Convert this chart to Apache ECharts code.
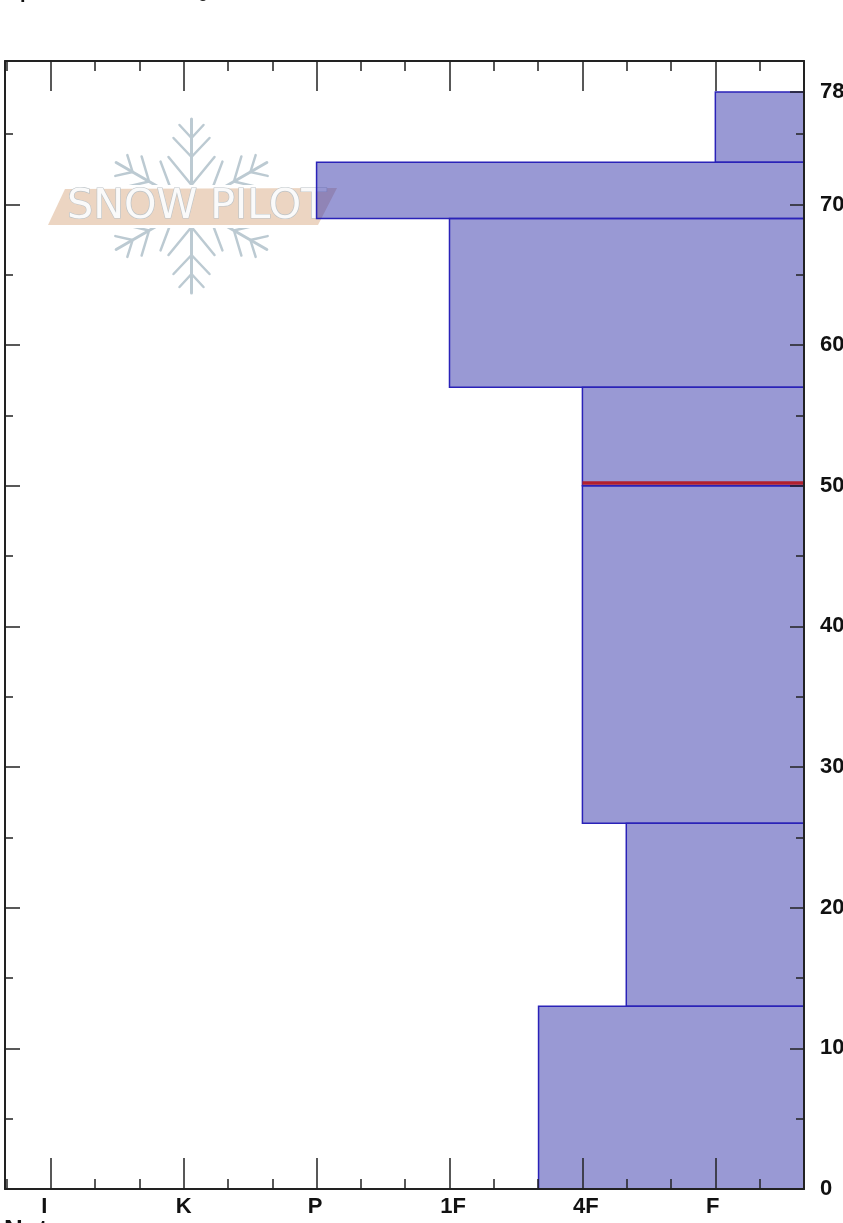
<!DOCTYPE html>
<html>
<head>
<meta charset="utf-8">
<title>Snow Pilot layers</title>
<script src="https://cdn.jsdelivr.net/npm/echarts@6/dist/echarts.min.js"></script>
<style>
html,body{margin:0;padding:0;background:#fff;overflow:hidden;}
/* the reference is a slightly soft upscaled image */
#chart{width:843px;height:1223px;filter:blur(0.45px);}
</style>
</head>
<body>
<div id="chart"></div>
<script>
// hand hardness scale: I=1 K=2 P=3 1F=4 4F=5 F=6, minor ticks every third
var hardnessNames = ['I', 'K', 'P', '1F', '4F', 'F'];
var hardnessMajor = [1, 2, 3, 4, 5, 6];
var hardnessMinor = [0.667, 1.333, 1.667, 2.333, 2.667, 3.333, 3.667, 4.333, 4.667, 5.333, 5.667, 6.333];
var labelShift = [-6.5, 0, -1.5, 3.5, 3.5, -2.5];
var xMin = 0.656;
var xMax = 6.667;

// depth axis
var depthMajor = [0, 10, 20, 30, 40, 50, 60, 70];
var depthMinor = [5, 15, 25, 35, 45, 55, 65, 75];
var depthTop = [78];
var yMax = 80.2;

// layers, bottom to top
var layerBottom = [0, 13, 26, 50, 57, 69, 73];
var layerTop = [13, 26, 50, 57, 69, 73, 78];
var layerHardness = [4.67, 5.33, 5, 5, 4, 3, 6];

// the red line sits just over the 50 boundary
var redDepth = 50.2;
var redFrom = 5;

var layerData = [];
for (var i = 0; i < layerTop.length; i++) {
    layerData.push([layerHardness[i], layerBottom[i], layerTop[i]]);
}

var axisColor = '#222';
var labelFont = {color: '#111', fontFamily: 'Liberation Sans', fontWeight: 'bold', fontSize: 22};

function xAxisOf(position, ticks, length, showLine, showLabel) {
    var rich = {};
    for (var k = 0; k < labelShift.length; k++) {
        var s = labelShift[k];
        rich['l' + k] = Object.assign({}, labelFont, {
            padding: [0, s < 0 ? -2 * s : 0, 0, s > 0 ? 2 * s : 0]
        });
    }
    return {
        type: 'value', position: position, min: xMin, max: xMax, z: 5,
        splitLine: {show: false},
        axisLine: {show: showLine, onZero: false, lineStyle: {color: axisColor, width: 2}},
        axisTick: {show: true, inside: true, length: length, customValues: ticks,
            lineStyle: {color: axisColor, width: 1.5}},
        axisLabel: {
            show: showLabel, margin: 7, customValues: hardnessMajor, rich: rich,
            formatter: function (v) {
                var n = hardnessMajor.indexOf(v);
                return '{l' + n + '|' + hardnessNames[n] + '}';
            }
        }
    };
}

function yAxisOf(position, ticks, length, showLine, showLabel) {
    return {
        type: 'value', position: position, min: 0, max: yMax, z: 5,
        splitLine: {show: false},
        axisLine: {show: showLine, onZero: false, lineStyle: {color: axisColor, width: 2}},
        axisTick: {show: true, inside: true, length: length, customValues: ticks,
            lineStyle: {color: axisColor, width: 1.5}},
        axisLabel: Object.assign({show: showLabel, margin: 16, customValues: depthMajor.concat(depthTop)}, labelFont)
    };
}

// watermark pieces
function stroke(points, width) {
    return {
        type: 'polyline', shape: {points: points},
        style: {stroke: '#bccad2', lineWidth: width, fill: null, lineCap: 'round', lineJoin: 'round'},
        z: -3
    };
}
function flakeArm(rot) {
    return {
        type: 'group', rotation: rot,
        children: [
            stroke([[0, -21], [0, -87]], 3),
            stroke([[-23, -49], [0, -21], [23, -49]], 2.5),
            stroke([[-18, -68], [0, -49], [18, -68]], 2.5),
            stroke([[-12, -81], [0, -68], [12, -81]], 2.5)
        ]
    };
}

var chart = echarts.init(document.getElementById('chart'), null, {renderer: 'canvas'});
var option = {
    animation: false,
    backgroundColor: '#fff',
    // labels run to the page edge, so the grid must not be pushed inward
    grid: {left: 5, right: 39, top: 61, bottom: 34, containLabel: false, outerBoundsMode: 'none'},
    xAxis: [
        xAxisOf('bottom', hardnessMajor, 31, true, true),
        xAxisOf('bottom', hardnessMinor, 10, false, false),
        xAxisOf('top', hardnessMajor, 30, true, false),
        xAxisOf('top', hardnessMinor, 10, false, false)
    ],
    yAxis: [
        yAxisOf('right', depthMajor.concat(depthTop), 14, true, true),
        yAxisOf('right', depthMinor, 8, false, false),
        yAxisOf('left', depthMajor, 15, true, false),
        yAxisOf('left', depthMinor, 8, false, false)
    ],
    graphic: [
        {
            type: 'group', x: 191.5, y: 206,
            children: [
                flakeArm(0), flakeArm(Math.PI / 3), flakeArm(-Math.PI / 3),
                flakeArm(Math.PI), flakeArm(2 * Math.PI / 3), flakeArm(-2 * Math.PI / 3)
            ]
        },
        // white gap the flake stops at, above and below the band
        {
            type: 'rect', z: -2,
            shape: {x: 100, y: 185, width: 185, height: 43},
            style: {fill: '#fff'}
        },
        {
            type: 'polygon', z: -1,
            shape: {points: [[48, 225], [65, 189], [337, 188], [318, 225]]},
            style: {fill: '#ecd5c2'}
        },
        {
            type: 'text', z: 0, x: 67, y: 207.5, scaleX: 1.03, scaleY: 1,
            style: {
                text: 'SNOW PILOT', fill: '#fafafa', stroke: '#bcc3c7', lineWidth: 1.2,
                font: '40px "DejaVu Sans"', verticalAlign: 'middle'
            }
        },
        // cut-off text at the page edges
        {
            type: 'text', x: 20, y: -18,
            style: {text: 'p', fill: '#111', font: 'bold 20px "Liberation Sans"'}
        },
        {
            type: 'text', x: 198, y: -17,
            style: {text: 'g', fill: '#222', font: '18px "Liberation Sans"'}
        },
        {
            type: 'text', x: 4, y: 1218,
            style: {text: 'Notes', fill: '#111', font: 'bold 26px "Liberation Sans"'}
        }
    ],
    series: [
        {
            type: 'custom', name: 'layers', z: 2,
            xAxisIndex: 0, yAxisIndex: 0,
            data: layerData,
            encode: {x: 0, y: [1, 2]},
            renderItem: function (params, api) {
                var a = api.coord([api.value(0), api.value(2)]);
                var b = api.coord([xMax, api.value(1)]);
                return {
                    type: 'rect',
                    shape: {x: a[0], y: a[1], width: b[0] - a[0], height: b[1] - a[1]},
                    style: {fill: 'rgba(51,51,170,0.5)', stroke: '#2a22b8', lineWidth: 1.5}
                };
            }
        },
        {
            type: 'line', name: 'red', z: 3,
            xAxisIndex: 0, yAxisIndex: 0,
            symbol: 'none',
            lineStyle: {color: '#b2202e', width: 3.5},
            data: [[redFrom, redDepth], [xMax, redDepth]]
        }
    ]
};
chart.setOption(option);
</script>
</body>
</html>
